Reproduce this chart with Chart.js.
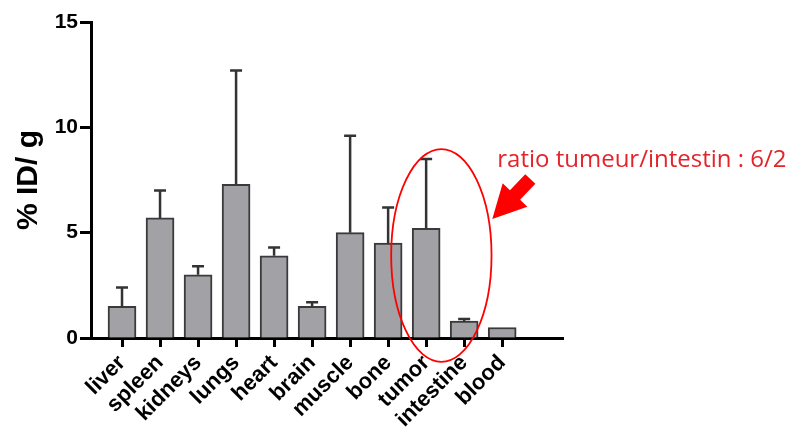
<!DOCTYPE html>
<html>
<head>
<meta charset="utf-8">
<title>% ID/ g biodistribution</title>
<script src="https://cdn.jsdelivr.net/npm/chart.js@4.4.1/dist/chart.umd.min.js"></script>
<style>
    html, body { margin: 0; padding: 0; background: #fff; }
    #chart { display: block; }
</style>
</head>
<body>
<canvas id="chart" width="793" height="432"></canvas>
<script>
// Data
const organs = ['liver', 'spleen', 'kidneys', 'lungs', 'heart', 'brain', 'muscle', 'bone', 'tumor', 'intestine', 'blood'];
const meanValues = [1.5, 5.7, 3.0, 7.3, 3.9, 1.5, 5.0, 4.5, 5.2, 0.8, 0.5];
const errorTop = [2.4, 7.0, 3.4, 12.7, 4.3, 1.7, 9.6, 6.2, 8.5, 0.9, 0.5];
const yTicks = [0, 5, 10, 15];
const noteText = 'ratio tumeur/intestin : 6/2';

const tickFont = { family: 'Liberation Sans, Arial, sans-serif', size: 21, weight: 'bold' };
const labelFont = { family: 'Liberation Sans, Arial, sans-serif', size: 22, weight: 'bold' };

// Error bars (upper only), drawn through the chart scales
const errorBarsPlugin = {
    id: 'errorBars',
    afterDatasetsDraw(chart) {
        const ctx = chart.ctx;
        const yScale = chart.scales.y;
        const meta = chart.getDatasetMeta(0);
        ctx.save();
        ctx.strokeStyle = '#333333';
        ctx.lineWidth = 2.5;
        meta.data.forEach((bar, i) => {
            if (errorTop[i] <= meanValues[i]) return;
            const yTop = yScale.getPixelForValue(errorTop[i]);
            ctx.beginPath();
            ctx.moveTo(bar.x, bar.y);
            ctx.lineTo(bar.x, yTop);
            ctx.moveTo(bar.x - 6, yTop);
            ctx.lineTo(bar.x + 6, yTop);
            ctx.stroke();
        });
        ctx.restore();
    }
};

// Red ellipse, arrow and note
const notePlugin = {
    id: 'note',
    afterDraw(chart) {
        const ctx = chart.ctx;
        const x = chart.scales.x;
        const y = chart.scales.y;
        ctx.save();

        // ellipse around tumor / intestine
        const cx = x.getPixelForValue(8.4);
        const cy = y.getPixelForValue(3.92);
        const rx = x.getPixelForValue(8.4 + 1.32) - cx;
        const ry = cy - y.getPixelForValue(3.92 + 5.05);
        ctx.strokeStyle = '#ff0000';
        ctx.lineWidth = 1.8;
        ctx.beginPath();
        ctx.ellipse(cx, cy, rx, ry, 0, 0, Math.PI * 2);
        ctx.stroke();

        // note text
        ctx.fillStyle = '#e3242b';
        ctx.font = '24px "Open Sans", "DejaVu Sans", sans-serif';
        ctx.textBaseline = 'alphabetic';
        ctx.textAlign = 'left';
        ctx.fillText(noteText, x.getPixelForValue(9.87), y.getPixelForValue(8.1));

        // block arrow pointing at the ellipse
        const tipX = x.getPixelForValue(9.74), tipY = y.getPixelForValue(5.65);
        const tailX = x.getPixelForValue(10.74), tailY = y.getPixelForValue(7.55);
        const len = Math.hypot(tailX - tipX, tailY - tipY);
        const ux = (tailX - tipX) / len, uy = (tailY - tipY) / len;
        const nx = -uy, ny = ux;
        const headLen = 33, headHalf = 17, shaftHalf = 7;
        const bx = tipX + ux * headLen, by = tipY + uy * headLen;
        ctx.fillStyle = '#ff0000';
        ctx.beginPath();
        ctx.moveTo(tipX, tipY);
        ctx.lineTo(bx + nx * headHalf, by + ny * headHalf);
        ctx.lineTo(bx + nx * shaftHalf, by + ny * shaftHalf);
        ctx.lineTo(tailX + nx * shaftHalf, tailY + ny * shaftHalf);
        ctx.lineTo(tailX - nx * shaftHalf, tailY - ny * shaftHalf);
        ctx.lineTo(bx - nx * shaftHalf, by - ny * shaftHalf);
        ctx.lineTo(bx - nx * headHalf, by - ny * headHalf);
        ctx.closePath();
        ctx.fill();

        ctx.restore();
    }
};

const ctx = document.getElementById('chart');
new Chart(ctx, {
    type: 'bar',
    data: {
        datasets: [{
            data: meanValues.map((v, i) => ({ x: i, y: v })),
            backgroundColor: '#a2a1a6',
            borderColor: '#3a3a3a',
            borderWidth: 2,
            barThickness: 28
        }]
    },
    options: {
        responsive: false,
        animation: false,
        layout: { padding: { left: 0, top: 22, right: 230, bottom: 0 } },
        plugins: {
            legend: { display: false },
            tooltip: { enabled: false }
        },
        scales: {
            x: {
                type: 'linear',
                min: -0.816,
                max: 11.6,
                offset: false,
                afterBuildTicks: function(scale) {
                    scale.ticks = organs.map((o, i) => ({ value: i }));
                },
                afterFit: function(scale) {
                    scale.height = 94;
                },
                grid: {
                    offset: false,
                    drawOnChartArea: false,
                    drawTicks: true,
                    tickLength: 9,
                    tickWidth: 3,
                    tickColor: '#000'
                },
                border: { display: true, color: '#000', width: 3 },
                ticks: {
                    autoSkip: false,
                    includeBounds: false,
                    maxRotation: 45,
                    minRotation: 45,
                    padding: 3,
                    color: '#000',
                    font: labelFont,
                    callback: function(value) {
                        return organs[value] || '';
                    }
                }
            },
            y: {
                min: 0,
                max: 15,
                afterBuildTicks: function(scale) {
                    scale.ticks = yTicks.map(v => ({ value: v }));
                },
                afterFit: function(scale) {
                    scale.width = 91;
                },
                grid: {
                    drawOnChartArea: false,
                    drawTicks: true,
                    tickLength: 11,
                    tickWidth: 3,
                    tickColor: '#000'
                },
                border: { display: true, color: '#000', width: 3 },
                ticks: {
                    padding: 2,
                    color: '#000',
                    font: tickFont
                },
                title: {
                    display: true,
                    text: '% ID/ g',
                    color: '#000',
                    font: { family: 'Liberation Sans, Arial, sans-serif', size: 30, weight: 'bold' },
                    padding: { top: 11, bottom: 0 }
                }
            }
        }
    },
    plugins: [errorBarsPlugin, notePlugin]
});
</script>
</body>
</html>
